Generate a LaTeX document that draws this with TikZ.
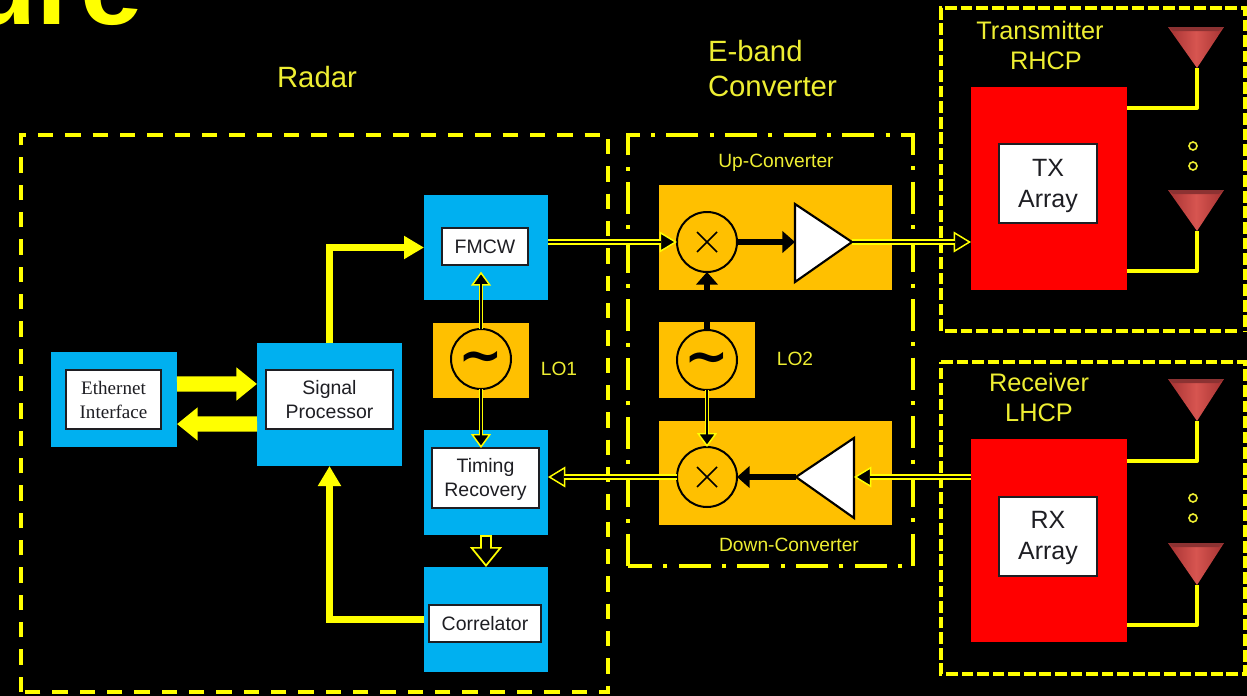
\documentclass[tikz,border=0pt]{standalone}
\usepackage{fontspec}
\setmainfont{Liberation Sans}
\newfontfamily\timesfam{Liberation Serif}
\newfontfamily\tildefam{DejaVu Sans}
\usetikzlibrary{arrows.meta,calc}
\definecolor{blu}{RGB}{0,176,240}
\definecolor{org}{RGB}{255,192,0}
\definecolor{yel}{RGB}{255,255,0}
\definecolor{lab}{RGB}{238,238,50}
\definecolor{ink}{RGB}{30,30,35}
\definecolor{hornd}{RGB}{165,50,50}
\definecolor{hornl}{RGB}{215,85,80}
\definecolor{hornrim}{RGB}{140,50,50}
\newcommand{\fsz}[2]{\fontsize{#1pt}{#2pt}\selectfont}
\newcommand{\blk}[7]{\node[#1, minimum width={(#5-#3)*.75pt}, minimum height={(#6-#4)*.75pt}] (#2) at ({(#3+#5)/2},{(#4+#6)/2}) {#7};}
\newcommand{\tildemark}{\raisebox{-11pt}[0pt][0pt]{\char`\~}}
\tikzset{
  box/.style={rectangle, inner sep=0pt, outer sep=0pt, align=center},
  bluebox/.style={box, fill=blu},
  orangebox/.style={box, fill=org},
  redbox/.style={box, fill=red},
  whitebox/.style={box, fill=white, draw=ink, line width=1.6pt, text=ink, font=\fsz{14.6}{18}},
  bigwhite/.style={box, fill=white, draw=ink, line width=.8pt, text=ink, font=\fsz{18.75}{23}},
  label/.style={inner sep=0pt, outer sep=0pt, text=lab, align=center},
  biglabel/.style={label, font=\fsz{22}{26}},
  midlabel/.style={label, font=\fsz{19}{22.5}},
  smalllabel/.style={label, font=\fsz{14.4}{17}},
  framea/.style={draw=yel, line width=3pt, dash pattern=on 11.5pt off 9pt},
  frameb/.style={draw=yel, line width=2.8pt, dash pattern=on 24pt off 8.5pt on 3pt off 8.5pt},
  framec/.style={draw=yel, line width=2.6pt, dash pattern=on 8.8pt off 2.88pt},
  osc/.style={circle, draw=black, fill=org, line width=1.5pt, minimum size=45pt, inner sep=0pt, outer sep=0pt},
  tildetext/.style={text=black, font=\tildefam\bfseries\fsz{40}{40}},
  hollowarrow/.style={draw=yel, line width=4.5pt, -{Triangle[length=13pt,width=15.5pt,line width=1.1pt,fill=black]},
     postaction={draw=black, line width=2.1pt, -, shorten >=12pt}},
  hollowshort/.style={draw=yel, line width=3.4pt, -{Triangle[length=10.5pt,width=15pt,line width=1.1pt,fill=black]},
     postaction={draw=black, line width=1.5pt, -, shorten >=9pt}},
  hollowblock/.style={draw=yel, line width=9pt, -{Triangle[length=15pt,width=24pt,line width=1.3pt,fill=black]},
     postaction={draw=black, line width=6.6pt, -, shorten >=12pt, shorten <=1.3pt}},
  thickyellow/.style={draw=yel, line width=5pt, -{Triangle[length=15pt,width=16.5pt]}},
  busyellow/.style={draw=yel, line width=11.5pt, -{Triangle[length=15.5pt,width=24pt]}},
  thickblack/.style={draw=black, line width=3.8pt, -{Triangle[length=9.5pt,width=16pt]}},
  feed/.style={draw=yel, line width=3pt, line join=round},
  horn/.style={left color=hornd, right color=hornd, middle color=hornl},
  dotmark/.style={circle, draw=lab, line width=1.2pt, minimum size=6pt, inner sep=0pt, outer sep=0pt},
}
\begin{document}
\begin{tikzpicture}[x=.75pt,y=-.75pt]
\useasboundingbox (0,0) rectangle (1247,696);
\clip (0,0) rectangle (1247,696);
\fill[black] (0,0) rectangle (1247,696);

\node[anchor=base east, inner sep=0pt, text=yel, font=\bfseries\fsz{84}{84}] (title) at (143,25) {ure};

% frames
\draw[framea] (21,692) -- (21,135) -- (608,135) -- (608,692) -- cycle;
\draw[frameb] (628,566) -- (628,135) -- (913,135) -- (913,566) -- cycle;
\draw[framec] (941,331) -- (941,8) -- (1245,8) -- (1245,331);
\draw[framec] (945,331) -- (1240,331);
\draw[framec] (941,362) -- (1245,362) -- (1245,674) -- (941,674) -- cycle;

% headings
\node[biglabel] (radarlab) at (317,77) {Radar};
\node[biglabel, anchor=west, align=left] (eband) at (708,68.5) {E-band\\Converter};
\node[midlabel] (txlab) at (1040,45) {Transmitter\\\hspace*{9pt}RHCP};
\node[midlabel] (rxlab) at (1039,397) {Receiver\\LHCP};
\node[smalllabel] (uplab) at (776,163) {Up-Converter};
\node[smalllabel] (downlab) at (789,545) {Down-Converter};
\node[smalllabel] (lo1lab) at (559,369) {LO1};
\node[smalllabel] (lo2lab) at (795,359) {LO2};

% blue blocks
\blk{bluebox}{eth}{51}{352}{177}{447}{}
\blk{whitebox, font=\timesfam\fsz{14.3}{18}}{ethin}{66}{370}{161}{429}{Ethernet\\Interface}
\blk{bluebox}{sp}{257}{343}{402}{466}{}
\blk{whitebox}{spin}{266}{370}{393}{429}{Signal\\Processor}
\blk{bluebox}{fmcw}{424}{195}{548}{300}{}
\blk{whitebox}{fmcwin}{442}{228}{528}{265}{FMCW}
\blk{bluebox}{tim}{424}{430}{548}{535}{}
\blk{whitebox}{timin}{432}{448}{539}{508}{\rule{0pt}{13.5pt}Timing\\Recovery}
\blk{bluebox}{corr}{424}{567}{548}{672}{}
\blk{whitebox}{corrin}{429}{605}{541}{642}{Correlator}

% orange blocks
\blk{orangebox}{lo1}{433}{323}{529}{398}{}
\blk{orangebox}{lo2}{659}{322}{755}{398}{}
\blk{orangebox}{up}{659}{185}{892}{290}{}
\blk{orangebox}{down}{659}{421}{892}{525}{}

% red blocks
\blk{redbox}{txr}{971}{87}{1127}{290}{}
\blk{bigwhite}{txin}{999}{144}{1097}{223}{\rule{0pt}{17pt}TX\\Array}
\blk{redbox}{rxr}{971}{439}{1127}{642}{}
\blk{bigwhite}{rxin}{999}{497}{1097}{576}{\rule{0pt}{15.5pt}RX\\Array}

% oscillators and mixers
\node[osc, tildetext] (c1) at (481,359) {\tildemark};
\node[osc, tildetext] (c2) at (707,360) {\tildemark};
\node[osc] (m1) at (707,242) {};
\node[osc] (m2) at (707,477) {};
\draw[black, line width=1.1pt] ([shift={(-10,-10)}]m1.center) -- ([shift={(10,10)}]m1.center);
\draw[black, line width=1.1pt] ([shift={(-10,10)}]m1.center) -- ([shift={(10,-10)}]m1.center);
\draw[black, line width=1.1pt] ([shift={(-10,-10)}]m2.center) -- ([shift={(10,10)}]m2.center);
\draw[black, line width=1.1pt] ([shift={(-10,10)}]m2.center) -- ([shift={(10,-10)}]m2.center);

% amplifiers
\coordinate (a1b) at (795,242);
\coordinate (a1t) at (852,242);
\coordinate (a2b) at (854,477);
\coordinate (a2t) at (796,477);
\draw[fill=white, draw=black, line width=1.6pt, line join=miter] (795,204) -- (852,242) -- (795,282) -- cycle;
\draw[fill=white, draw=black, line width=1.6pt, line join=miter] (854,438) -- (796,477) -- (854,518) -- cycle;

% connectors
\draw[busyellow] ([yshift=11.6pt]eth.east) -- ([yshift=15.4pt]sp.west);
\draw[busyellow] ([yshift=-14.6pt]sp.west) -- ([yshift=-18.4pt]eth.east);
\draw[thickyellow] (sp.north) |- (fmcw.west);
\draw[thickyellow] (corr.west) -| (sp.south);
\draw[hollowarrow] (m1.west -| fmcw.east) -- (m1.west);
\draw[hollowshort, shorten >=5pt] (c1.north) -- (c1.north |- fmcwin.south);
\draw[hollowshort] (c1.south) -- (c1.south |- timin.north);
\draw[hollowarrow] (m2.west) -- (m2.west -| tim.east);
\draw[hollowarrow] (a1t) -- (a1t -| txr.west);
\draw[hollowarrow] (a2b -| rxr.west) -- (a2b);
\draw[hollowshort] (c2.south) -- (m2.north);
\draw[hollowblock] (tim.south) -- (corr.north);
\draw[thickblack] (m1.east) -- (a1b);
\draw[thickblack] (a2t) -- (m2.east);
\draw[thickblack] (c2.north) -- (m1.south);

% antennas
\coordinate (h1) at (1197,68);
\coordinate (h2) at (1197,231);
\coordinate (h3) at (1197,421);
\coordinate (h4) at (1197,585);
\coordinate (f1) at (1127,108);
\coordinate (f2) at (1127,271);
\coordinate (f3) at (1127,461);
\coordinate (f4) at (1127,625);
\draw[feed] (h1) |- (f1);
\draw[feed] (h2) |- (f2);
\draw[feed] (h3) |- (f3);
\draw[feed] (h4) |- (f4);
\shade[horn] (1168,27) -- (1224,27) -- (h1) -- cycle;
\shade[horn] (1168,190) -- (1224,190) -- (h2) -- cycle;
\shade[horn] (1168,379) -- (1224,379) -- (h3) -- cycle;
\shade[horn] (1168,543) -- (1224,543) -- (h4) -- cycle;
\fill[hornrim] (1168,27) -- (1224,27) -- (1219,31) -- (1173,31) -- cycle;
\fill[hornrim] (1168,190) -- (1224,190) -- (1219,194) -- (1173,194) -- cycle;
\fill[hornrim] (1168,379) -- (1224,379) -- (1219,383) -- (1173,383) -- cycle;
\fill[hornrim] (1168,543) -- (1224,543) -- (1219,547) -- (1173,547) -- cycle;
\node[dotmark] (d1) at (1193,146) {};
\node[dotmark] (d2) at (1193,166) {};
\node[dotmark] (d3) at (1193,498) {};
\node[dotmark] (d4) at (1193,518) {};
\end{tikzpicture}
\end{document}
